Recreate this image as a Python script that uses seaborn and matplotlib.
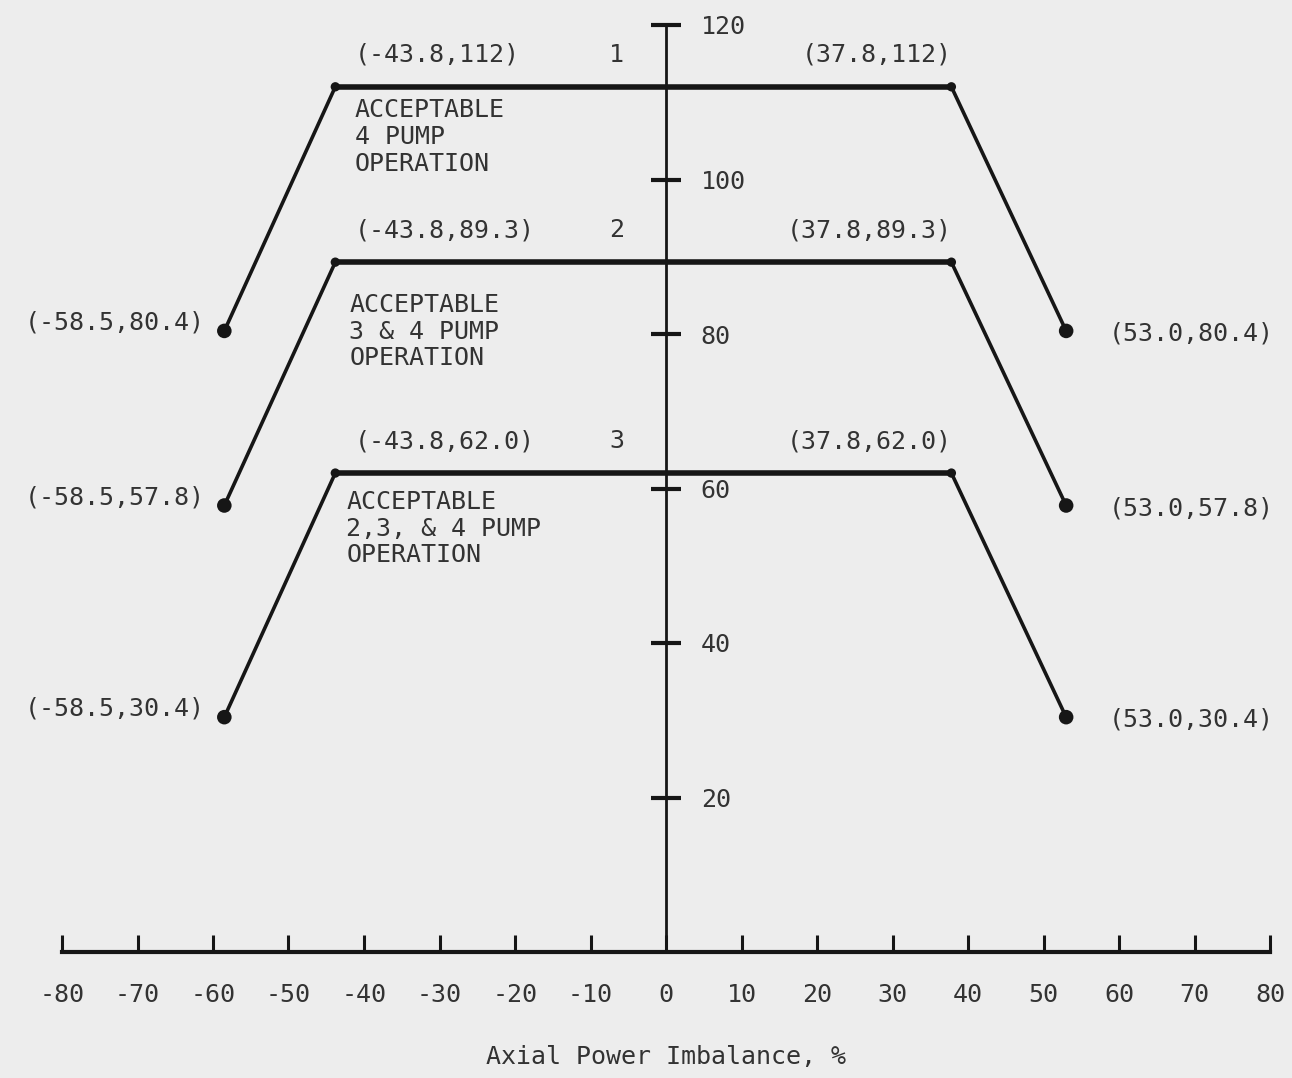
"""Axial power imbalance limits for 4, 3&4 and 2,3&4 pump operation."""
import numpy as np
import pandas as pd
import matplotlib
matplotlib.use('Agg')
import matplotlib.pyplot as plt
import seaborn as sns

# Data
curves = ['1', '2', '3']
imbalance = [-58.5, -43.8, 37.8, 53.0]
power_1 = [80.4, 112.0, 112.0, 80.4]
power_2 = [57.8, 89.3, 89.3, 57.8]
power_3 = [30.4, 62.0, 62.0, 30.4]
point_labels_1 = ['(-58.5,80.4)', '(-43.8,112)', '(37.8,112)', '(53.0,80.4)']
point_labels_2 = ['(-58.5,57.8)', '(-43.8,89.3)', '(37.8,89.3)', '(53.0,57.8)']
point_labels_3 = ['(-58.5,30.4)', '(-43.8,62.0)', '(37.8,62.0)', '(53.0,30.4)']
region_text = ['ACCEPTABLE\n4 PUMP\nOPERATION',
               'ACCEPTABLE\n3 & 4 PUMP\nOPERATION',
               'ACCEPTABLE\n2,3, & 4 PUMP\nOPERATION']
x_ticks = list(range(-80, 81, 10))
y_ticks = [20, 40, 60, 80, 100, 120]
x_label = 'Axial Power Imbalance, %'

LINE = '#161616'
TEXT = '#333333'
BG = '#ededed'


def build_frame():
    """Long table with one row per vertex."""
    rows = []
    for name, ys, labs in zip(curves, [power_1, power_2, power_3],
                              [point_labels_1, point_labels_2, point_labels_3]):
        for i, (x, y, lab) in enumerate(zip(imbalance, ys, labs)):
            rows.append({'curve': name, 'order': i, 'x': x, 'y': y, 'label': lab})
    return pd.DataFrame(rows)


def main():
    sns.set_theme(style='white')
    plt.rcParams['font.family'] = ['DejaVu Sans Mono', 'DejaVu Sans']
    plt.rcParams['text.color'] = TEXT
    plt.rcParams['axes.unicode_minus'] = False

    df = build_frame()

    fig = plt.figure(figsize=(12.92, 10.78), dpi=100, facecolor=BG)
    ax = fig.add_axes([62 / 1292, 126 / 1078, 1208 / 1292, 927 / 1078])
    ax.set_facecolor(BG)

    # full outline of each curve
    sns.lineplot(data=df, x='x', y='y', units='curve', estimator=None, sort=False,
                 color=LINE, lw=2.6, ax=ax, legend=False)
    # flat tops are drawn heavier in the original
    flat = df[df['order'].isin([1, 2])]
    sns.lineplot(data=flat, x='x', y='y', units='curve', estimator=None, sort=False,
                 color=LINE, lw=4.0, ax=ax, legend=False)
    ends = df[df['order'].isin([0, 3])]
    sns.scatterplot(data=ends, x='x', y='y', color=LINE, s=110, edgecolor='none',
                    ax=ax, legend=False, zorder=5)
    corners = df[df['order'].isin([1, 2])]
    sns.scatterplot(data=corners, x='x', y='y', color=LINE, s=45, edgecolor='none',
                    ax=ax, legend=False, zorder=5)

    ax.set_xlim(-80, 80)
    ax.set_ylim(0, 120)

    # axes: bottom line at 0, vertical line through x = 0 with labels on its right
    ax.spines['left'].set_visible(False)
    ax.spines['top'].set_visible(False)
    ax.spines['right'].set_position(('data', 0))
    ax.spines['right'].set_bounds(0, 120)
    ax.spines['right'].set_linewidth(2.0)
    ax.spines['right'].set_color(LINE)
    ax.spines['bottom'].set_linewidth(3.0)
    ax.spines['bottom'].set_color(LINE)
    ax.yaxis.set_ticks_position('right')
    ax.set_xticks(x_ticks)
    ax.set_yticks(y_ticks)
    ax.tick_params(axis='x', bottom=True, direction='in', length=12, width=2.2,
                   color=LINE, pad=22, labelsize=18, labelcolor=TEXT)
    ax.tick_params(axis='y', right=True, direction='inout', length=22, width=3,
                   color=LINE, pad=14, labelsize=18, labelcolor=TEXT)
    ax.set_xlabel(x_label, fontsize=18, labelpad=28, color=TEXT)
    ax.set_ylabel('')

    # point labels
    for _, r in df.iterrows():
        o = r['order']
        if o == 0:
            kw = dict(xytext=(-14, 6), ha='right', va='center')
        elif o == 3:
            kw = dict(xytext=(31, -2), ha='left', va='center')
        elif o == 1:
            kw = dict(xytext=(14, 23), ha='left', va='center')
        else:
            kw = dict(xytext=(0, 23), ha='right', va='center')
        ax.annotate(r['label'], (r['x'], r['y']), textcoords='offset points',
                    fontsize=18, color=TEXT, annotation_clip=False, **kw)

    # curve numbers and region descriptions
    top_y = [power_1[1], power_2[1], power_3[1]]
    text_dx = [14, 10, 8]
    text_dy = [-8, -22, -12]
    for name, y, txt, dx, dy in zip(curves, top_y, region_text, text_dx, text_dy):
        ax.annotate(name, (-6.5, y), xytext=(0, 23), textcoords='offset points',
                    ha='center', va='center', fontsize=18, color=TEXT)
        ax.annotate(txt, (imbalance[1], y), xytext=(dx, dy), textcoords='offset points',
                    ha='left', va='top', fontsize=18, color=TEXT, linespacing=1.15)

    fig.savefig('out.png', dpi=100, facecolor=BG)
    plt.close(fig)


if __name__ == '__main__':
    main()
